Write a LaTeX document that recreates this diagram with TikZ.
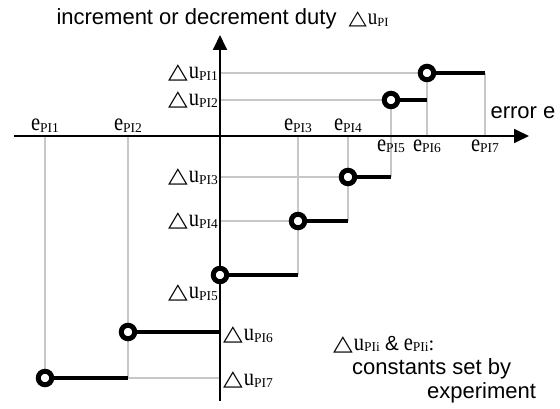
\documentclass[tikz,border=0pt]{standalone}
\usepackage{fontspec}
\setmainfont{Liberation Serif}
\setsansfont{Liberation Sans}
\newfontfamily\symfont{DejaVu Sans}
\usetikzlibrary{positioning,arrows.meta}

\newcommand{\tri}{{\symfont\scalebox{1.25}[1.05]{△}}}
\newcommand{\tall}[1]{\scalebox{1}[1.2]{#1}}
\newcommand{\pisub}[1]{\raisebox{-1.5pt}{\fontsize{13.5}{13.5}\selectfont PI#1}}
\newcommand{\du}[1]{\tri\kern1pt\tall{u}\pisub{#1}}
\newcommand{\ee}[1]{\tall{e}\pisub{#1}}

\begin{document}
\begin{tikzpicture}[x=1pt,y=-1pt,font=\fontsize{20.5}{22}\selectfont,
    axis/.style={line width=1.8pt,-{Triangle[length=15pt,width=14pt]}},
    guide/.style={draw=black!22,line width=1.3pt},
    level/.style={line width=4.5pt},
    hole/.style={circle,draw,fill=white,line width=5pt,minimum size=13.5pt,inner sep=0pt},
    sans/.style={font=\fontsize{22}{24}\selectfont\sffamily}]
    \useasboundingbox (0,0) rectangle (560,409);
    % Axes
    \coordinate (xl) at (14,136);
    \coordinate (xr) at (529,136);
    \coordinate (yb) at (220,401);
    \coordinate (yt) at (220,35);
    % Duty levels on the vertical axis
    \coordinate (u1) at (220,73);
    \coordinate (u2) at (220,100);
    \coordinate (u3) at (220,177);
    \coordinate (u4) at (220,221);
    \coordinate (u5) at (220,275);
    \coordinate (u6) at (220,332);
    \coordinate (u7) at (220,378);
    % Error thresholds on the horizontal axis
    \coordinate (e1) at (45,136);
    \coordinate (e2) at (128,136);
    \coordinate (e3) at (298,136);
    \coordinate (e4) at (348,136);
    \coordinate (e5) at (391,136);
    \coordinate (e6) at (427,136);
    \coordinate (e7) at (485,136);
    % Open ends and closed ends of the steps
    \coordinate (c1) at (427,73);
    \coordinate (c2) at (391,100);
    \coordinate (c3) at (348,177);
    \coordinate (c4) at (298,221);
    \coordinate (c5) at (220,275);
    \coordinate (c6) at (128,332);
    \coordinate (c7) at (45,378);
    \coordinate (d1) at (485,73);
    \coordinate (d2) at (427,100);
    \coordinate (d3) at (391,177);
    \coordinate (d4) at (348,221);
    \coordinate (d5) at (298,275);
    \coordinate (d6) at (220,332);
    \coordinate (d7) at (128,378);

    % Grey guide lines
    \draw[guide] (u1) -- (c1);
    \draw[guide] (u2) -- (c2);
    \draw[guide] (u3) -- (c3);
    \draw[guide] (u4) -- (c4);
    \draw[guide] (d7) -- (u7);
    \draw[guide] (e1) -- (c7);
    \draw[guide] (e2) -- (d7);
    \draw[guide] (e3) -- (d5);
    \draw[guide] (e4) -- (d4);
    \draw[guide] (c2) -- (d3);
    \draw[guide] (c1) -- (e6);
    \draw[guide] (d1) -- (e7);

    \draw[axis] (xl) -- (xr);
    \draw[axis] (yb) -- (yt);

    % Steps
    \draw[level] (c1) -- (d1);
    \draw[level] (c2) -- (d2);
    \draw[level] (c3) -- (d3);
    \draw[level] (c4) -- (d4);
    \draw[level] (c5) -- (d5);
    \draw[level] (c6) -- (d6);
    \draw[level] (c7) -- (d7);
    \node[hole] (h1) at (c1) {};
    \node[hole] (h2) at (c2) {};
    \node[hole] (h3) at (c3) {};
    \node[hole] (h4) at (c4) {};
    \node[hole] (h5) at (c5) {};
    \node[hole] (h6) at (c6) {};
    \node[hole] (h7) at (c7) {};

    % Labels
    \node[left,inner sep=2pt] (lu1) at (u1) {\du{1}};
    \node[left,inner sep=2pt] (lu2) at (u2) {\du{2}};
    \node[left,inner sep=2pt] (lu3) at (u3) {\du{3}};
    \node[left,inner sep=2pt] (lu4) at (u4) {\du{4}};
    \node[left,inner sep=2pt] (lu5) at (220,293) {\du{5}};
    \node[right,inner sep=3pt] (lu6) at (220,335) {\du{6}};
    \node[right,inner sep=3pt] (lu7) at (220,380) {\du{7}};

    \node[above] (le1) at (e1) {\ee{1}};
    \node[above] (le2) at (e2) {\ee{2}};
    \node[above] (le3) at (e3) {\ee{3}};
    \node[above] (le4) at (e4) {\ee{4}};
    \node[below] (le5) at (e5) {\ee{5}};
    \node[below] (le6) at (e6) {\ee{6}};
    \node[below] (le7) at (e7) {\ee{7}};

    \node[sans,anchor=base west] (title) at (53,25) {increment or decrement duty\hspace{12pt}{\rmfamily\fontsize{19}{20}\selectfont\tri\kern1pt\tall{u}\raisebox{-1.5pt}{\fontsize{12.5}{12.5}\selectfont PI}}};
    \node[sans,anchor=base west] (err) at (487,119) {error e};

    \node[anchor=base west,inner sep=0pt] (note1) at (333,350) {\du{i} {\sffamily\&} \ee{i}:};
    \node[sans,anchor=base west,inner sep=0pt] (note2) at (352,374) {constants set by};
    \node[sans,anchor=base west,inner sep=0pt] (note3) at (427,398) {experiment};
\end{tikzpicture}
\end{document}
